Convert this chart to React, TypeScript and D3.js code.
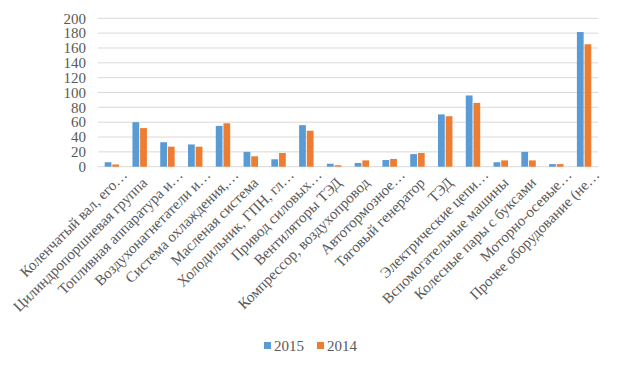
import * as d3 from 'd3';
import React from 'react';

const categories = [
  'Коленчатый вал, его…',
  'Цилиндропоршневая группа',
  'Топливная аппаратура и…',
  'Воздухонагнетатели и…',
  'Система охлаждения,…',
  'Масленая система',
  'Холодильник, ГПН, гл…',
  'Привод силовых…',
  'Вентиляторы ТЭД',
  'Компрессор, воздухопровод',
  'Автотормозное…',
  'Тяговый генератор',
  'ТЭД',
  'Электрические цепи…',
  'Вспомогательные машины',
  'Колесные пары с буксами',
  'Моторно-осевые…',
  'Прочее оборудование (не…',
];

const values2015 = [6, 60, 33, 30, 55, 20, 10, 56, 4, 5, 9, 17, 70.5, 96, 6, 20, 3.5, 181.5];
const values2014 = [3, 52, 27, 27, 58.5, 14, 18.5, 48.5, 2, 8.5, 10.5, 18.5, 68, 86, 8.5, 8.5, 3.5, 165];

const seriesNames = ['2015', '2014'];
const yTicks = [0, 20, 40, 60, 80, 100, 120, 140, 160, 180, 200];

const colors = ['#5B9BD5', '#ED7D31'];
const textColor = '#595959';
const font = "'Times New Roman', Tinos, 'Liberation Serif', 'Noto Serif', 'DejaVu Serif', serif";

const W = 618;
const H = 370;
const left = 98;
const right = 598;
const top = 18.3;
const bottom = 166.7;

const App = () => {
  const x0 = d3.scaleBand<number>()
    .domain(d3.range(categories.length))
    .range([left, right])
    .paddingInner(0.48)
    .paddingOuter(0.24);

  const x1 = d3.scaleBand<number>()
    .domain([0, 1])
    .range([0, x0.bandwidth()])
    .paddingInner(0.12);

  const y = d3.scaleLinear().domain([0, 200]).range([bottom, top]);

  const series = [values2015, values2014];
  const txt = { fontFamily: font, fontSize: '15px', fill: textColor };

  return (
    <svg width={W} height={H} style={{ position: 'absolute', left: 0, top: 0, background: '#fff' }}>
      <g>
        {yTicks.map(t => (
          <g key={t}>
            <line x1={left} x2={right} y1={y(t)} y2={y(t)} stroke="#d9d9d9" strokeWidth={1} />
            <text x={86} y={y(t)} dy="0.35em" textAnchor="end" style={txt}>
              {t}
            </text>
          </g>
        ))}
      </g>
      <g>
        {categories.map((c, i) => (
          <g key={c} transform={`translate(${x0(i)},0)`}>
            {series.map((vals, s) => (
              <rect
                key={s}
                x={x1(s)}
                y={y(vals[i])}
                width={x1.bandwidth()}
                height={bottom - y(vals[i])}
                fill={colors[s]}
              />
            ))}
          </g>
        ))}
      </g>
      <g>
        {categories.map((c, i) => {
          const cx = (x0(i) ?? 0) + x0.bandwidth() / 2;
          const ell = c.endsWith('…');
          return (
            <text
              key={c}
              transform={`translate(${cx},${bottom}) rotate(-45)`}
              x={ell ? 5 : -6}
              y={18}
              textAnchor="end"
              style={txt}
            >
              {c}
            </text>
          );
        })}
      </g>
      <g>
        {seriesNames.map((n, s) => (
          <g key={n} transform={`translate(${264 + s * 53},0)`}>
            <rect x={0} y={342} width={7} height={7} fill={colors[s]} />
            <text x={10} y={351} style={txt}>{n}</text>
          </g>
        ))}
      </g>
    </svg>
  );
};

export default App;
